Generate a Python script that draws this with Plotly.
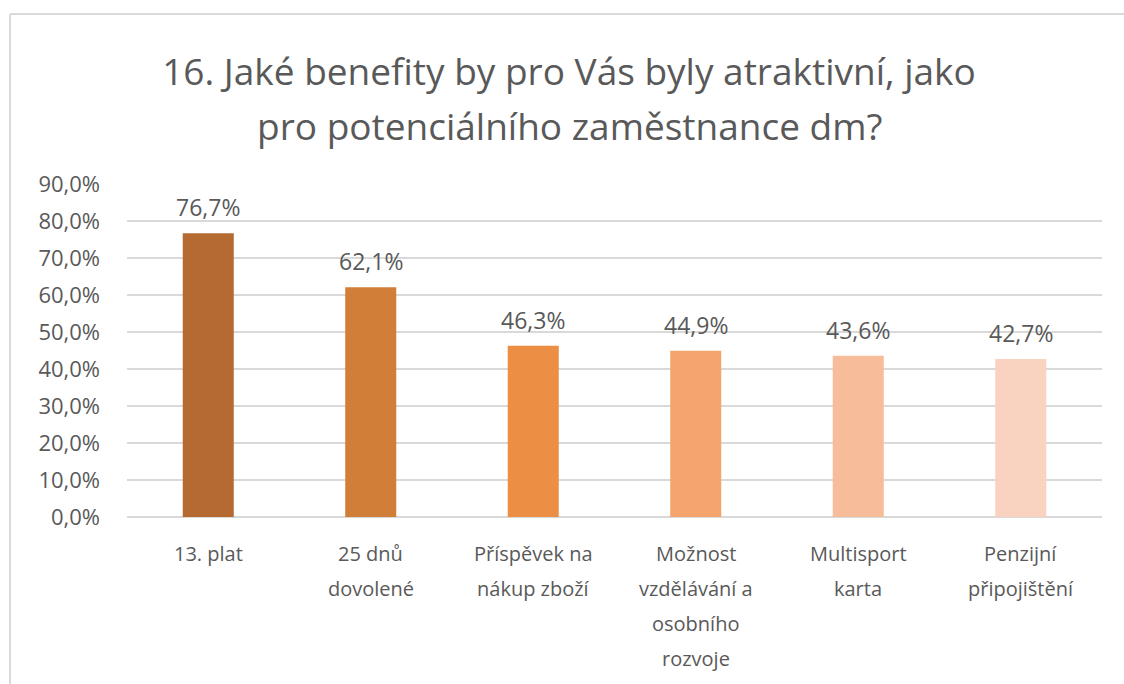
import plotly.graph_objects as go

categories = [
    "13. plat",
    "25 dnů\ndovolené",
    "Příspěvek na\nnákup zboží",
    "Možnost\nvzdělávání a\nosobního\nrozvoje",
    "Multisport\nkarta",
    "Penzijní\npřipojištění",
]
values = [0.767, 0.621, 0.463, 0.449, 0.436, 0.427]
bar_colors = ["#B46A30", "#D07E38", "#ED8E45", "#F4A46C", "#F7BC9A", "#F9D3BF"]
title_lines = [
    "16. Jaké benefity by pro Vás byly atraktivní, jako",
    "pro potenciálního zaměstnance dm?",
]
tick_vals = [i / 10 for i in range(10)]

W, H = 1124, 684
L, R, T, B = 127, 22, 184, 167
pw, ph = W - L - R, H - T - B

FONT = "Open Sans"
GREY = "#595959"

x_keys = [c.replace("\n", " ") for c in categories]

fig = go.Figure(
    go.Bar(
        x=x_keys,
        y=values,
        marker=dict(color=bar_colors, line=dict(width=0)),
        hoverinfo="skip",
    )
)

annotations = []
# data labels
for key, v in zip(x_keys, values):
    annotations.append(
        dict(
            x=key, xref="x", y=v, yref="y",
            yanchor="middle", yshift=26,
            text=f"{v * 100:.1f}%".replace(".", ","), showarrow=False,
            font=dict(family=FONT, size=23, color=GREY),
        )
    )
# category labels, one annotation per line
for key, label in zip(x_keys, categories):
    for i, line in enumerate(label.split("\n")):
        annotations.append(
            dict(
                x=key, xref="x", y=0, yref="paper",
                yanchor="middle", yshift=-36 - 35 * i,
                text=line, showarrow=False,
                font=dict(family=FONT, size=20, color=GREY),
            )
        )

annotations.append(
    dict(
        x=(569 - L) / pw, xref="paper", y=(H - B - 126) / ph, yref="paper",
        xanchor="center", yanchor="middle",
        text=title_lines[1], showarrow=False,
        font=dict(family=FONT, size=37, color=GREY),
    )
)

fig.update_layout(
    width=W, height=H,
    margin=dict(l=L, r=R, t=T, b=B),
    paper_bgcolor="white", plot_bgcolor="white",
    separators=", ",
    showlegend=False,
    bargap=0.686,
    title=dict(
        text=title_lines[0], x=569 / W, xref="container", xanchor="center",
        y=1 - 72 / H, yref="container", yanchor="middle",
        font=dict(family=FONT, size=37, color=GREY),
    ),
    xaxis=dict(showticklabels=False, showgrid=False, showline=False, zeroline=False),
    yaxis=dict(
        range=[0, 0.9], tickvals=tick_vals + [0.9], tickformat=".1%",
        showgrid=True, gridcolor="#D9D9D9", gridwidth=1.5,
        zeroline=True, zerolinecolor="#D9D9D9", zerolinewidth=1.5,
        showline=False, ticks="", ticklabelstandoff=26,
        tickfont=dict(family=FONT, size=22, color=GREY),
    ),
    annotations=annotations,
    shapes=[
        dict(type="line", xref="paper", yref="paper",
             x0=(10 - L) / pw, x1=(10 - L) / pw, y0=(H - B - 14) / ph, y1=(H - B - 700) / ph,
             line=dict(color="#D9D9D9", width=2)),
        dict(type="line", xref="paper", yref="paper",
             x0=(10 - L) / pw, x1=(1130 - L) / pw, y0=(H - B - 14) / ph, y1=(H - B - 14) / ph,
             line=dict(color="#D9D9D9", width=2)),
    ],
)

fig.write_html(
    "out.html",
    config={"displayModeBar": False},
    post_script="document.body.style.margin='0';document.body.style.overflow='hidden';",
)
